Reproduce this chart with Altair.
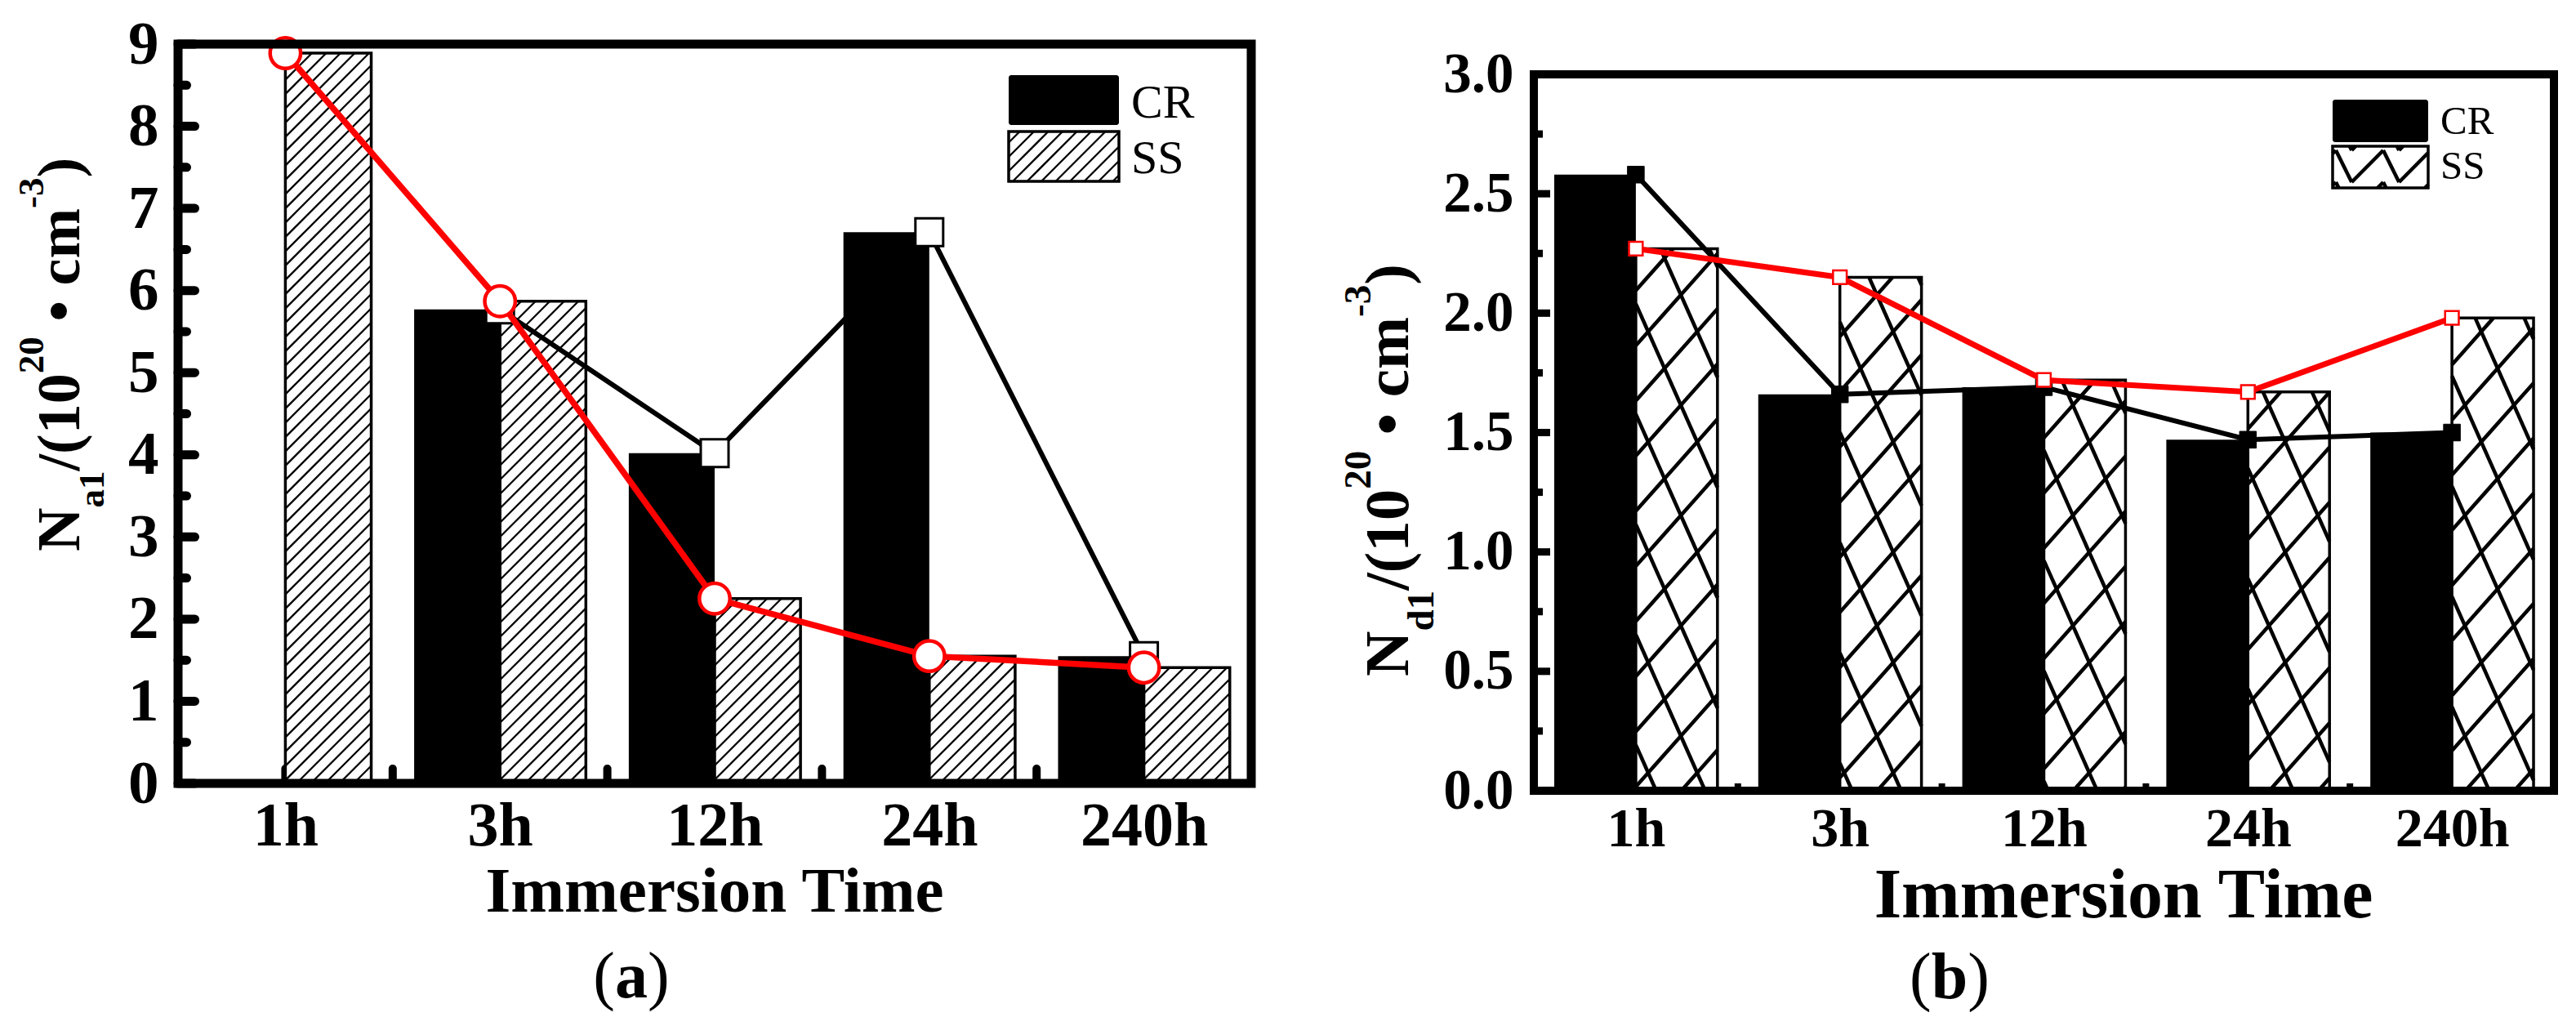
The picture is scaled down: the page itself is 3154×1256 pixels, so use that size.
import math
import json
import altair as alt
import pandas as pd

# ---------------- data ----------------
times = ["1h", "3h", "12h", "24h", "240h"]
series_names = ["CR", "SS"]

# panel (a): N_a1 (10^20 cm^-3)
a_cr = [None, 5.77, 4.02, 6.71, 1.55]
a_ss = [8.89, 5.87, 2.25, 1.55, 1.41]

# panel (b): N_d1 (10^20 cm^-3)
b_cr = [2.58, 1.66, 1.69, 1.47, 1.50]
b_ss = [2.27, 2.15, 1.72, 1.67, 1.98]

a_yticks = [0, 1, 2, 3, 4, 5, 6, 7, 8, 9]
a_yminor = [0.5, 1.5, 2.5, 3.5, 4.5, 5.5, 6.5, 7.5, 8.5]
b_yticks = [0.0, 0.5, 1.0, 1.5, 2.0, 2.5, 3.0]
b_yminor = [0.25, 0.75, 1.25, 1.75, 2.25, 2.75]

FONT = "Liberation Serif"
ONE = pd.DataFrame({"k": [0]})

# Times/Liberation Serif advance widths (em)
TB = {'N': .722, 'a': .5, 'd': .556, '1': .5, '/': .278, '(': .333, ')': .333,
      '0': .5, '2': .5, '3': .5, ' ': .25, '•': .35, 'c': .444, 'm': .833, '-': .333,
      'b': .556}
TR = {'(': .333, ')': .333}


def tw(s, size, table=TB):
    return sum(table[c] for c in s) * size


def clip(x0, y0, x1, y1, xmin, xmax, ymin, ymax):
    dx, dy = x1 - x0, y1 - y0
    t0, t1 = 0.0, 1.0
    for p, q in ((-dx, x0 - xmin), (dx, xmax - x0), (-dy, y0 - ymin), (dy, ymax - y0)):
        if p == 0:
            if q < 0:
                return None
        else:
            t = q / p
            if p < 0:
                if t > t1:
                    return None
                t0 = max(t0, t)
            else:
                if t < t0:
                    return None
                t1 = min(t1, t)
    if t1 - t0 < 1e-6:
        return None
    return (x0 + t0 * dx, y0 + t0 * dy, x0 + t1 * dx, y0 + t1 * dy)


def diag_pattern(step):
    def f(X0, X1, Y0, Y1):
        out = []
        c = math.floor((X0 + Y0) / step) * step
        while c <= X1 + Y1 + 1e-9:
            s = clip(X0 - 5, c - (X0 - 5), X1 + 5, c - (X1 + 5), X0, X1, Y0, Y1)
            if s:
                out.append(s)
            c += step
        return out
    return f


def lattice_pattern(P, Q, shift, ox=0.0, oy=0.0):
    """rows of zigzags (short steep stroke down, long stroke up), each row shifted
    so the long strokes join into diagonals"""
    def f(X0, X1, Y0, Y1):
        out = []
        r0 = math.floor((Y0 - oy) / Q) - 1
        r1 = math.ceil((Y1 - oy) / Q) + 1
        for r in range(r0, r1 + 1):
            ty = oy + r * Q
            sx = ox - r * shift
            k0 = math.floor((X0 - sx) / P) - 1
            k1 = math.ceil((X1 - sx) / P) + 1
            for k in range(k0, k1 + 1):
                tx = sx + k * P
                for a, b, c, d in ((tx, ty, tx + P / 3, ty + Q),
                                   (tx + P / 3, ty + Q, tx + P, ty)):
                    s = clip(a, b, c, d, X0, X1, Y0, Y1)
                    if s:
                        out.append(s)
        return out
    return f


def text_layer(txt, x, y, size, weight='bold', align='left', angle=0):
    kw = dict(text=txt, font=FONT, fontSize=size, fontWeight=weight, align=align,
              baseline='alphabetic', color='black')
    if angle:
        kw['angle'] = angle
    return alt.Chart(ONE).mark_text(**kw).encode(x=alt.value(x), y=alt.value(y))


def anchor(x, y):
    return alt.Chart(ONE).mark_rule(color='white', strokeWidth=1).encode(
        x=alt.value(x), x2=alt.value(x), y=alt.value(y), y2=alt.value(y + 1))


def build(P):
    W, H, YM, T = P['W'], P['H'], P['ymax'], P['top']
    n = len(times)
    xs = alt.Scale(domain=[0, n], nice=False, zero=False)
    ys = alt.Scale(domain=[0, YM], nice=False, zero=False, range=[H + T, T])
    ax_x = alt.Axis(values=[i + 0.5 for i in range(n)],
                    labelExpr=json.dumps(times) + "[floor(datum.value)]",
                    labelFont=FONT, labelFontSize=P['xlab_fs'], labelFontWeight='bold',
                    labelColor='black', labelPadding=P['xlab_pad'], labelBaseline='alphabetic',
                    labelFlush=False, labelOverlap=False, labelBound=False,
                    ticks=False, tickSize=0, domain=False, grid=False, title=None)
    ax_y = alt.Axis(values=P['yticks'], format=P['fmt'],
                    labelFont=FONT, labelFontSize=P['ylab_fs'], labelFontWeight='bold',
                    labelColor='black', labelPadding=P['ylab_pad'], labelAlign='right',
                    labelBaseline='middle', labelFlush=False, labelOverlap=False, labelBound=False,
                    ticks=False, tickSize=0, domain=False, grid=False, title=None)

    def X(f):
        return alt.X(f + ':Q', scale=xs, axis=ax_x)

    def Y(f):
        return alt.Y(f + ':Q', scale=ys, axis=ax_y)

    def px2x(px):
        return px * n / W

    def py2y(py):
        return (H - py) * YM / H

    cr_df = pd.DataFrame([{'t': t, 'x0': i + 0.1, 'x1': i + 0.5, 'xc': i + 0.5, 'v': v}
                          for i, (t, v) in enumerate(zip(times, P['cr'])) if v is not None])
    ss_df = pd.DataFrame([{'t': t, 'x0': i + 0.5, 'x1': i + 0.9, 'xc': i + 0.5, 'v': v}
                          for i, (t, v) in enumerate(zip(times, P['ss'])) if v is not None])

    # hatch inside the SS bars (computed from the SS values); px relative to plot top-left
    segs = []
    for i, v in enumerate(P['ss']):
        X0, X1 = (i + 0.5) * W / n, (i + 0.9) * W / n
        Y0, Y1 = H - v * H / YM, H
        segs += P['pattern'](X0, X1, Y0, Y1)
    lx0, lx1, ly0, ly1 = P['leg_ss']
    segs += P['leg_pattern'](lx0, lx1, ly0, ly1)
    hatch_df = pd.DataFrame([{'x': px2x(a), 'y': py2y(b), 'xe': px2x(c), 'ye': py2y(d)}
                             for a, b, c, d in segs])

    xt_df = pd.DataFrame({'p': [k * 0.5 for k in range(1, 2 * n)]})
    ymaj_df = pd.DataFrame({'v': P['yticks']})
    ymin_df = pd.DataFrame({'v': P['yminor']})

    layers = []
    layers.append(alt.Chart(xt_df).mark_rule(color='black', strokeWidth=P['xtick_w'],
                                             strokeCap=P['cap']).encode(
        x=X('p'), y=alt.value(H + T), y2=alt.value(H + T - P['xtick_len'])))
    layers.append(alt.Chart(cr_df).mark_rect(color='black').encode(
        x=X('x0'), x2=alt.X2('x1'), y=Y('v'), y2=alt.value(H + T)))
    layers.append(alt.Chart(ss_df).mark_rect(fill='white', stroke='black',
                                             strokeWidth=P['bar_stroke']).encode(
        x=X('x0'), x2=alt.X2('x1'), y=Y('v'), y2=alt.value(H + T)))
    layers.append(alt.Chart(hatch_df).mark_rule(color='black', strokeWidth=P['hatch_w']).encode(
        x=X('x'), x2=alt.X2('xe'), y=Y('y'), y2=alt.Y2('ye')))
    layers.append(alt.Chart(cr_df).mark_line(color='black', strokeWidth=P['cr_line_w']).encode(
        x=X('xc'), y=Y('v')))
    layers.append(alt.Chart(cr_df).mark_point(filled=True, opacity=1, **P['cr_marker']).encode(
        x=X('xc'), y=Y('v')))
    layers.append(alt.Chart(ss_df).mark_line(color='#ff0000', strokeWidth=P['ss_line_w']).encode(
        x=X('xc'), y=Y('v')))
    layers.append(alt.Chart(ss_df).mark_point(filled=True, opacity=1, **P['ss_marker']).encode(
        x=X('xc'), y=Y('v')))
    # frame
    layers.append(alt.Chart(ONE).mark_rect(fill='transparent', stroke='black',
                                           strokeWidth=P['frame_w']).encode(
        x=alt.value(0), x2=alt.value(W), y=alt.value(T), y2=alt.value(H + T)))
    # inward y ticks
    layers.append(alt.Chart(ymaj_df).mark_rule(color='black', strokeWidth=P['ytick_w'],
                                               strokeCap=P['cap']).encode(
        x=alt.value(0), x2=alt.value(P['ytick_major']), y=Y('v')))
    layers.append(alt.Chart(ymin_df).mark_rule(color='black', strokeWidth=P['ytick_w'],
                                               strokeCap=P['cap']).encode(
        x=alt.value(0), x2=alt.value(P['ytick_minor']), y=Y('v')))
    # legend
    cx0, cx1, cy0, cy1 = P['leg_cr']
    layers.append(alt.Chart(ONE).mark_rect(color='black', cornerRadius=3).encode(
        x=alt.value(cx0), x2=alt.value(cx1), y=alt.value(cy0 + T), y2=alt.value(cy1 + T)))
    layers.append(alt.Chart(ONE).mark_rect(fill='transparent', stroke='black',
                                           strokeWidth=P['bar_stroke']).encode(
        x=alt.value(lx0), x2=alt.value(lx1), y=alt.value(ly0 + T), y2=alt.value(ly1 + T)))
    for name, base in zip(series_names, P['leg_base']):
        layers.append(text_layer(name, P['leg_x'], base + T, P['leg_fs'], weight='normal'))

    # rotated y title built from pieces (sub/superscripts)
    F, s = P['yt_F'], P['yt_s']
    pieces = [('N', 'n'), (P['sub'], 'sub'), ('/(10', 'n'), ('20', 'sup'), (' ', 'gap'),
              ('•', 'n'), (' ', 'gap'), ('cm', 'n'), ('-3', 'sup'), (')', 'n')]
    y = P['yt_start'] + T
    for txt, kind in pieces:
        if kind == 'gap':
            y -= tw(txt, F)
            continue
        size = F if kind == 'n' else s
        off = 0 if kind == 'n' else (P['yt_sub'] if kind == 'sub' else -P['yt_sup'])
        layers.append(text_layer(txt, P['yt_x'] + off, y, size, angle=270))
        y -= tw(txt, size)

    # x title
    layers.append(text_layer("Immersion Time", P['xt_x'], P['xt_y'] + T, P['xt_fs'], align='center'))

    # caption "(a)" / "(b)"
    cf = P['cap_fs']
    letter = P['cap_letter']
    total = tw('(', cf, TR) + tw(letter, cf) + tw(')', cf, TR)
    x = P['cap_x'] - total / 2
    layers.append(text_layer('(', x, P['cap_y'] + T, cf, weight='normal'))
    x += tw('(', cf, TR)
    layers.append(text_layer(letter, x, P['cap_y'] + T, cf, weight='bold'))
    x += tw(letter, cf)
    layers.append(text_layer(')', x, P['cap_y'] + T, cf, weight='normal'))

    # invisible (white) layout anchors
    for ax_, ay_ in P['anchors']:
        layers.append(anchor(ax_, ay_))

    return alt.layer(*layers).properties(width=W, height=H + T)


PA = dict(W=1314, H=905, top=0, ymax=9, cr=a_cr, ss=a_ss, yticks=a_yticks, yminor=a_yminor,
          fmt='d', ylab_fs=75, ylab_pad=24, xlab_fs=76, xlab_pad=75,
          ytick_major=20.5, ytick_minor=10.5, ytick_w=11, cap='round',
          xtick_len=18, xtick_w=10, frame_w=11,
          cr_line_w=6, ss_line_w=7.5,
          cr_marker=dict(shape='square', size=1156, fill='white', stroke='black', strokeWidth=3),
          ss_marker=dict(shape='circle', size=1400, fill='white', stroke='#ff0000', strokeWidth=4.5),
          pattern=diag_pattern(17.5), leg_pattern=diag_pattern(17.5), hatch_w=2.3, bar_stroke=3.5,
          leg_cr=(1017, 1152, 38, 99), leg_ss=(1017, 1152, 107, 168), leg_fs=58, leg_x=1167,
          leg_base=(90, 158),
          yt_x=-121, yt_start=621, yt_F=74, yt_s=45, yt_sub=30, yt_sup=44, sub='a1',
          xt_x=657, xt_y=1062, xt_fs=79,
          cap_letter='a', cap_x=555, cap_y=1167, cap_fs=80,
          anchors=[(-209, 0), (0, -45), (1380, 0)])

PB = dict(W=1249, H=877, top=37, ymax=3.0, cr=b_cr, ss=b_ss, yticks=b_yticks, yminor=b_yminor,
          fmt='.1f', ylab_fs=69, ylab_pad=25, xlab_fs=68, xlab_pad=67,
          ytick_major=20, ytick_minor=11, ytick_w=9, cap='butt',
          xtick_len=9, xtick_w=8, frame_w=10,
          cr_line_w=6, ss_line_w=7,
          cr_marker=dict(shape='square', size=420, fill='black', stroke='black', strokeWidth=1),
          ss_marker=dict(shape='square', size=280, fill='white', stroke='#ff0000', strokeWidth=2.5),
          pattern=lattice_pattern(60, 45, 40), leg_pattern=lattice_pattern(58, 39, 0, ox=982, oy=93),
          hatch_w=4.5, bar_stroke=3.5,
          leg_cr=(978, 1095, 31, 83), leg_ss=(978, 1095, 88, 139), leg_fs=49, leg_x=1110,
          leg_base=(73, 128),
          yt_x=-154, yt_start=737, yt_F=77, yt_s=47, yt_sub=31, yt_sup=46, sub='d1',
          xt_x=722, xt_y=1032, xt_fs=86,
          cap_letter='b', cap_x=509, cap_y=1131, cap_fs=80,
          anchors=[(-278, 0), (0, -45)])

chart = alt.hconcat(build(PA), build(PB), spacing=0).properties(
    padding=0, background='white').configure_view(stroke='transparent')

chart.save("out.html", embed_options={"renderer": "svg", "actions": False})
